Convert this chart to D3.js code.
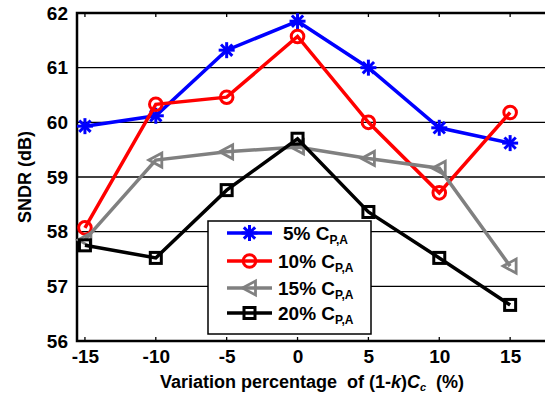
<!DOCTYPE html>
<html>
<head>
  <meta charset="utf-8" />
  <script src="https://cdn.jsdelivr.net/npm/d3@7"></script>
  <style>
    body{ margin:0; background:white; }
    text{ font-family:"Liberation Sans", Arial, sans-serif; font-weight:bold; }
  </style>
</head>
<body>
  <script>
    // - - - - - DATA - - - - - //
    var variation = [-15, -10, -5, 0, 5, 10, 15];
    var yTicks = [56, 57, 58, 59, 60, 61, 62];
    var sndr5 = [59.93, 60.12, 61.32, 61.85, 61.0, 59.9, 59.62];
    var sndr10 = [58.07, 60.33, 60.46, 61.57, 60.0, 58.71, 60.18];
    var sndr15 = [57.85, 59.31, 59.46, 59.55, 59.34, 59.16, 57.37];
    var sndr20 = [57.75, 57.52, 58.76, 59.70, 58.36, 57.52, 56.66];
    var seriesNames = ["5%", "10%", "15%", "20%"];

    // - - - - - CANVAS - - - - - //
    var w = 545, h = 393;
    var pL = 77, pR = 545, pT = 13, pB = 341;

    var svg = d3.select("body").append("svg")
      .attr("width", w).attr("height", h);

    var x = d3.scaleLinear().domain([-15.56, 17.46]).range([pL, pR]);
    var y = d3.scaleLinear().domain([56, 62]).range([pB, pT]);

    // gridlines
    svg.append("g").selectAll("line")
      .data(yTicks.slice(1, -1))
      .enter().append("line")
      .attr("x1", pL).attr("x2", pR)
      .attr("y1", function(d){ return y(d); })
      .attr("y2", function(d){ return y(d); })
      .attr("stroke", "black").attr("stroke-width", 1.3);

    // axes
    var yAxis = svg.append("g")
      .attr("transform", "translate(" + pL + ",0)")
      .call(d3.axisLeft(y).tickValues(yTicks).tickSize(0).tickPadding(9).tickFormat(d3.format("d")));
    yAxis.select(".domain").remove();
    yAxis.selectAll("text").attr("font-size", "19px").attr("fill", "black");

    var xAxis = svg.append("g")
      .attr("transform", "translate(0," + pB + ")")
      .call(d3.axisBottom(x).tickValues(variation).tickSize(0).tickPadding(9).tickFormat(d3.format("d")));
    xAxis.select(".domain").remove();
    xAxis.selectAll("text").attr("font-size", "19px").attr("fill", "black")
      .text(function(d){ return d < 0 ? "-" + Math.abs(d) : d; });

    // inner tick marks top & bottom
    var ticks = svg.append("g");
    variation.forEach(function(v){
      ticks.append("line").attr("x1", x(v)).attr("x2", x(v))
        .attr("y1", pB).attr("y2", pB - 4)
        .attr("stroke", "black").attr("stroke-width", 1.3);
      ticks.append("line").attr("x1", x(v)).attr("x2", x(v))
        .attr("y1", pT).attr("y2", pT + 4)
        .attr("stroke", "black").attr("stroke-width", 1.3);
    });

    // frame
    svg.append("path")
      .attr("d", "M" + pR + "," + pT + "H" + pL + "V" + pB + "H" + pR)
      .attr("fill", "none").attr("stroke", "black").attr("stroke-width", 2.5);

    // - - - - - MARKERS - - - - - //
    var drawMarker = function(g, kind, color){
      if(kind == "star"){
        for(var a = 0; a < 4; a++){
          g.append("line")
            .attr("x1", -8).attr("x2", 8).attr("y1", 0).attr("y2", 0)
            .attr("transform", "rotate(" + (a * 45) + ")")
            .attr("stroke", color).attr("stroke-width", 3);
        }
      } else if(kind == "circle"){
        g.append("circle").attr("r", 6.3)
          .attr("fill", "none").attr("stroke", color).attr("stroke-width", 3);
      } else if(kind == "tri"){
        g.append("path").attr("d", "M-7,0L6,-7L6,7Z")
          .attr("fill", "none").attr("stroke", color).attr("stroke-width", 2.8)
          .attr("stroke-linejoin", "miter");
      } else {
        g.append("rect").attr("x", -5.5).attr("y", -5.5).attr("width", 11).attr("height", 11)
          .attr("fill", "none").attr("stroke", color).attr("stroke-width", 3);
      }
    };

    var series = [
      {vals: sndr5, color: "#0000ff", kind: "star"},
      {vals: sndr10, color: "#ff0000", kind: "circle"},
      {vals: sndr15, color: "#808080", kind: "tri"},
      {vals: sndr20, color: "#000000", kind: "square"}
    ];

    var line = d3.line()
      .x(function(d, i){ return x(variation[i]); })
      .y(function(d){ return y(d); });

    series.forEach(function(s){
      var g = svg.append("g");
      g.append("path").datum(s.vals)
        .attr("d", line)
        .attr("fill", "none").attr("stroke", s.color).attr("stroke-width", 3.5);
      s.vals.forEach(function(v, i){
        var m = g.append("g").attr("transform", "translate(" + x(variation[i]) + "," + y(v) + ")");
        drawMarker(m, s.kind, s.color);
      });
    });

    // - - - - - LEGEND - - - - - //
    var lg = svg.append("g");
    lg.append("rect").attr("x", 208).attr("y", 221).attr("width", 163).attr("height", 113)
      .attr("fill", "white").attr("stroke", "black").attr("stroke-width", 1.5);
    var rowY = [233, 261, 288, 313];
    series.forEach(function(s, i){
      var r = lg.append("g").attr("transform", "translate(0," + rowY[i] + ")");
      r.append("line").attr("x1", 227).attr("x2", 272).attr("y1", 0).attr("y2", 0)
        .attr("stroke", s.color).attr("stroke-width", 3.5);
      var m = r.append("g").attr("transform", "translate(249.5,0)");
      drawMarker(m, s.kind, s.color);
      var t = r.append("text").attr("x", i == 0 ? 283 : 278).attr("y", 7)
        .attr("font-size", "19px").attr("fill", "black");
      t.append("tspan").text(seriesNames[i] + " C");
      t.append("tspan").attr("font-size", "12px").attr("dy", 4).text("P,A");
    });

    // - - - - - TITLES - - - - - //
    svg.append("text")
      .attr("transform", "translate(31," + ((pT + pB) / 2) + ") rotate(-90)")
      .attr("text-anchor", "middle").attr("font-size", "18px").text("SNDR (dB)");

    var xt = svg.append("text").attr("x", 312).attr("y", 388)
      .attr("text-anchor", "middle").attr("font-size", "18px")
      .attr("xml:space", "preserve").style("white-space", "pre");
    xt.append("tspan").text("Variation percentage  of (1-");
    xt.append("tspan").attr("font-style", "italic").text("k");
    xt.append("tspan").text(")");
    xt.append("tspan").attr("font-style", "italic").text("C");
    xt.append("tspan").attr("font-style", "italic").attr("font-size", "11px").attr("dy", 3).text("c");
    xt.append("tspan").attr("dy", -3).text("  (%)");
  </script>
</body>
</html>
